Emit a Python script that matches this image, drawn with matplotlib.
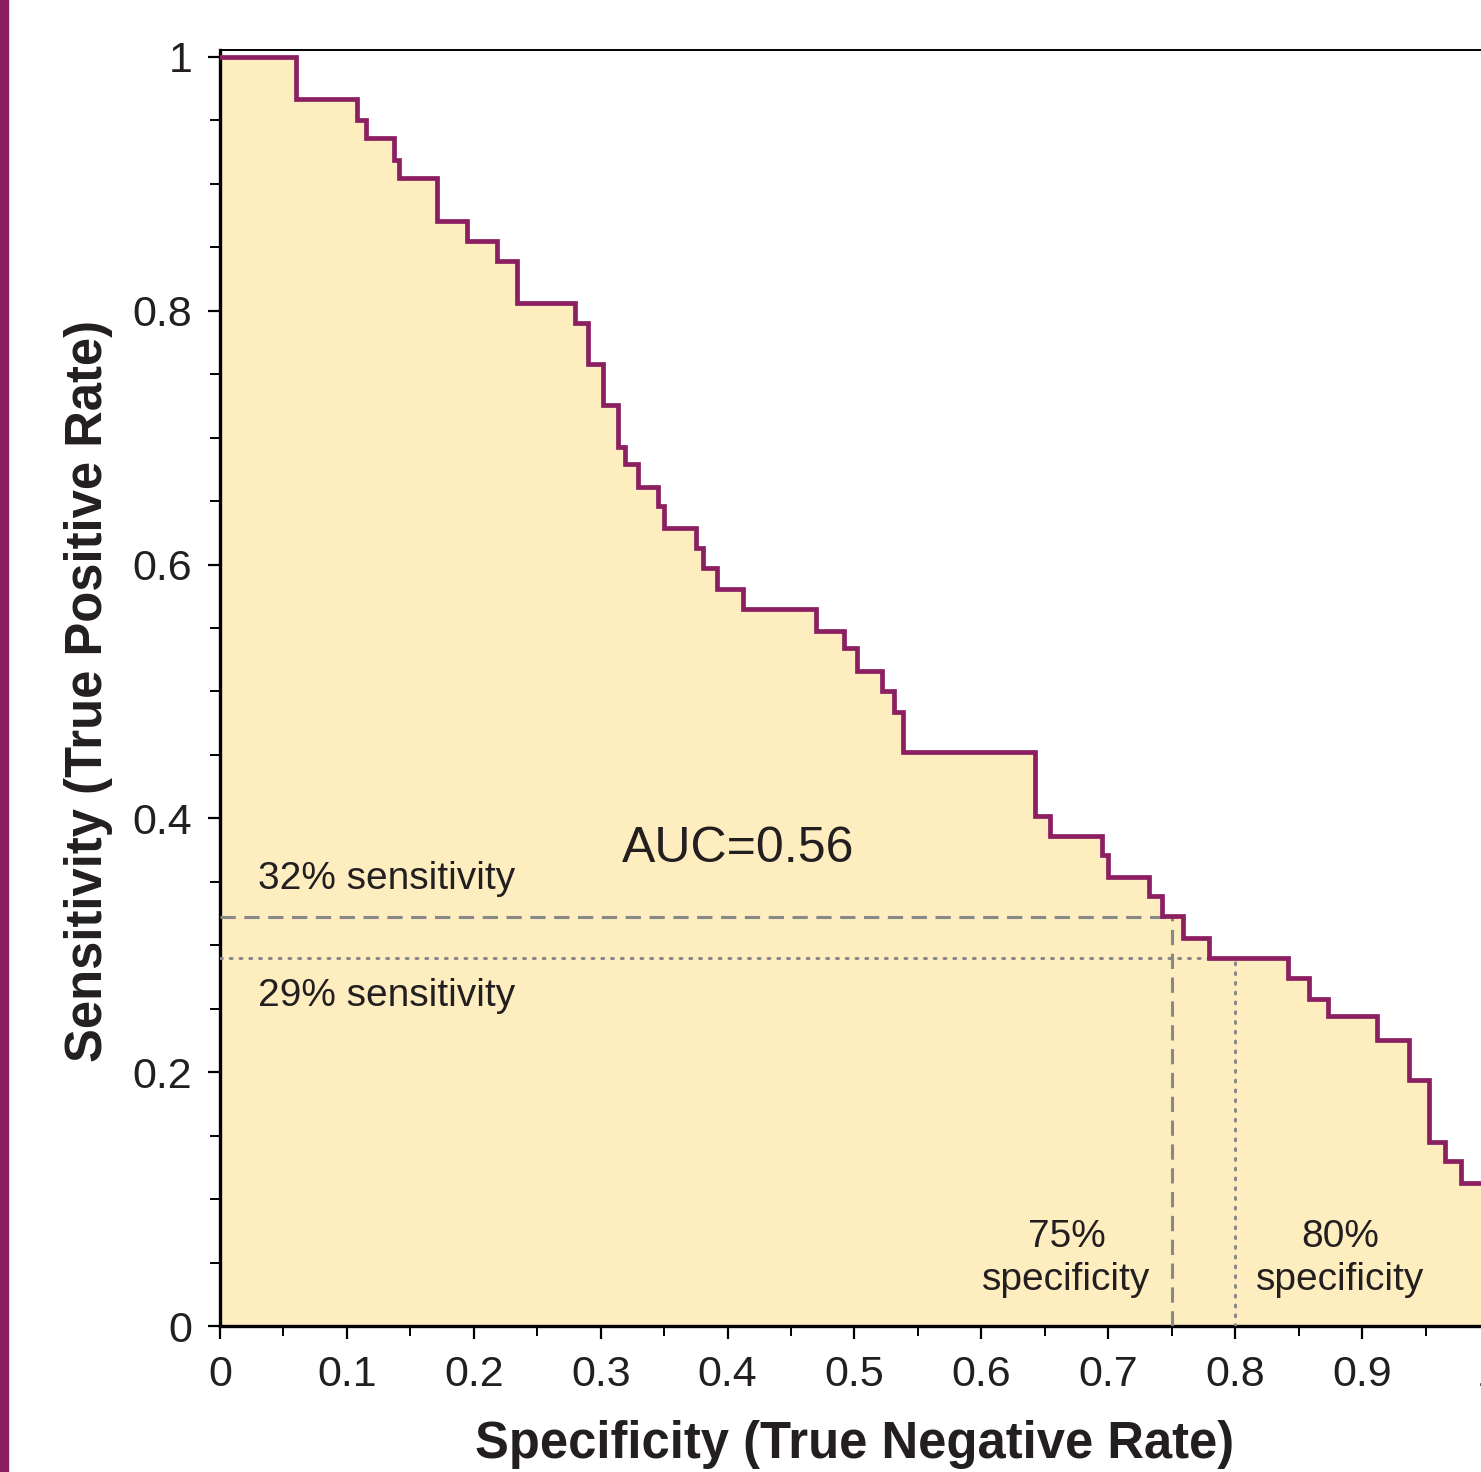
import matplotlib
matplotlib.use('Agg')
import matplotlib.pyplot as plt
from matplotlib.patches import Rectangle

# ROC curve: curve sits at sens[i] from spec[i] to spec[i+1]
spec = [0, 0.060, 0.108, 0.115, 0.137, 0.141, 0.171, 0.195, 0.218, 0.234, 0.280,
        0.290, 0.302, 0.314, 0.319, 0.329, 0.345, 0.350, 0.375, 0.381, 0.392,
        0.412, 0.470, 0.492, 0.502, 0.522, 0.531, 0.538, 0.642, 0.654, 0.695,
        0.700, 0.732, 0.742, 0.759, 0.779, 0.842, 0.858, 0.873, 0.912, 0.937,
        0.953, 0.965, 0.978, 1.0]
sens = [1.0, 0.967, 0.950, 0.936, 0.919, 0.905, 0.871, 0.855, 0.839, 0.806, 0.790,
        0.758, 0.726, 0.693, 0.679, 0.661, 0.646, 0.629, 0.613, 0.597, 0.581,
        0.565, 0.548, 0.534, 0.516, 0.500, 0.484, 0.452, 0.402, 0.386, 0.371,
        0.354, 0.339, 0.323, 0.306, 0.290, 0.274, 0.258, 0.244, 0.225, 0.194,
        0.145, 0.130, 0.113, 0.113]

x_ticks = [0, 0.1, 0.2, 0.3, 0.4, 0.5, 0.6, 0.7, 0.8, 0.9, 1.0]
x_ticklabels = ['0', '0.1', '0.2', '0.3', '0.4', '0.5', '0.6', '0.7', '0.8', '0.9', '1']
y_ticks = [0, 0.2, 0.4, 0.6, 0.8, 1.0]
y_ticklabels = ['0', '0.2', '0.4', '0.6', '0.8', '1']

cut_sens = [0.322, 0.29]
cut_spec = [0.75, 0.80]
auc_text = 'AUC=0.56'

purple = '#8b1f62'
fill_col = '#fdedbf'
ref_col = '#888888'
txt_col = '#231f20'

plt.rcParams['font.family'] = ['Liberation Sans', 'DejaVu Sans']

fig = plt.figure(figsize=(14.81, 14.72), dpi=100)
ax = fig.add_axes([220 / 1481, 146 / 1472, 1269 / 1481, 1276 / 1472])

ax.fill_between(spec, sens, step='post', color=fill_col, lw=0, zorder=1)
ax.step(spec, sens, where='post', color=purple, lw=3.4, zorder=4,
        solid_joinstyle='miter')

# reference lines
ax.plot([0, 0.745], [cut_sens[0]] * 2, color=ref_col, lw=2.2, ls=(0, (5, 2.8)), zorder=3)
ax.plot([cut_spec[0]] * 2, [0, cut_sens[0]], color=ref_col, lw=2.2, ls=(0, (5, 2.8)), zorder=3)
ax.plot([0, 0.78], [cut_sens[1]] * 2, color=ref_col, lw=2.2, ls=(0, (0.6, 2.6)),
        dash_capstyle='round', zorder=3)
ax.plot([cut_spec[1]] * 2, [0, cut_sens[1]], color=ref_col, lw=2.2, ls=(0, (0.6, 2.6)),
        dash_capstyle='round', zorder=3)

ax.text(0.317, 0.376, auc_text, fontsize=36, va='center', ha='left', color=txt_col)
ax.text(0.030, 0.352, '32% sensitivity', fontsize=28, va='center', ha='left', color=txt_col)
ax.text(0.030, 0.260, '29% sensitivity', fontsize=28, va='center', ha='left', color=txt_col)
ax.text(0.667, 0.053, '75%\nspecificity', fontsize=28, va='center', ha='center',
        linespacing=1.25, color=txt_col)
ax.text(0.883, 0.053, '80%\nspecificity', fontsize=28, va='center', ha='center',
        linespacing=1.25, color=txt_col)

ax.set_xlim(0, 1)
ax.set_ylim(0, 1.0055)
ax.set_xticks(x_ticks)
ax.set_xticklabels(x_ticklabels)
ax.set_yticks(y_ticks)
ax.set_yticklabels(y_ticklabels)
ax.set_xticks([i * 0.05 for i in range(21)], minor=True)
ax.set_yticks([i * 0.05 for i in range(21)], minor=True)
ax.tick_params(which='major', length=9, width=1.6, labelsize=31, labelcolor=txt_col)
ax.tick_params(which='minor', length=7, width=1.4)
ax.tick_params(axis='x', pad=12)
ax.tick_params(axis='y', pad=11)

for s in ['left', 'bottom']:
    ax.spines[s].set_linewidth(2.4)
ax.spines['top'].set_linewidth(1.4)
ax.spines['right'].set_visible(False)

ax.set_xlabel('Specificity (True Negative Rate)', fontsize=36.5, fontweight='bold', color=txt_col)
ax.set_ylabel('Sensitivity (True Positive Rate)', fontsize=36.5, fontweight='bold', color=txt_col)
ax.xaxis.set_label_coords(0.5, -0.093)
ax.xaxis.label.set_va('center')
ax.yaxis.set_label_coords(-0.104, 0.498)
ax.yaxis.label.set_va('center')

# purple strip on the left edge
fig.patches.append(Rectangle((0, 0), 8 / 1481, 1, transform=fig.transFigure,
                             color=purple, zorder=0))

fig.savefig('out.png', dpi=100)
